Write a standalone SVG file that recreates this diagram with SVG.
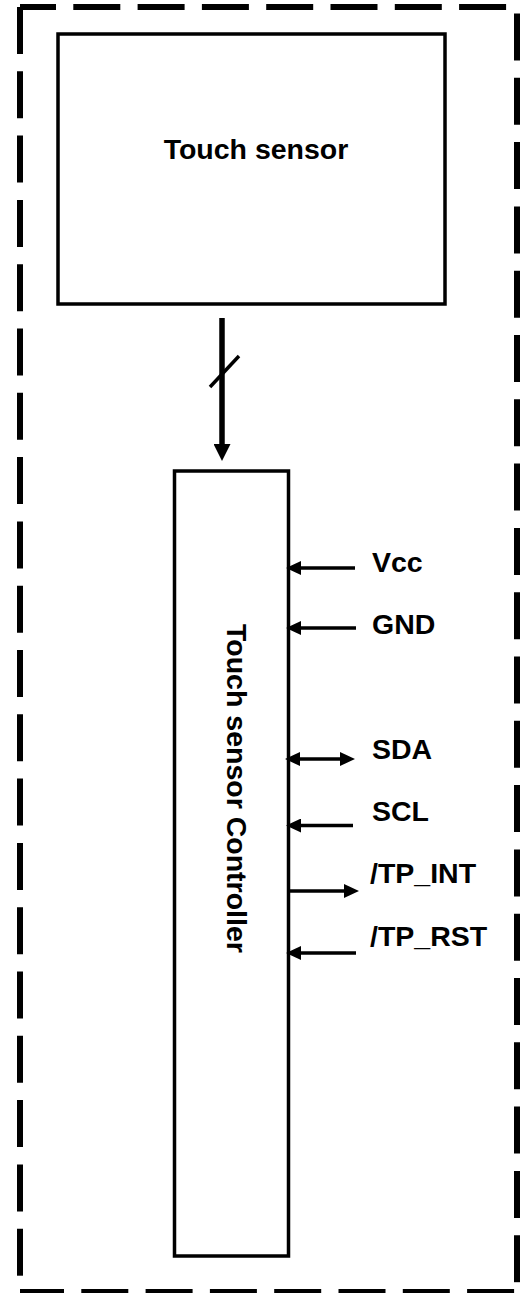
<svg xmlns="http://www.w3.org/2000/svg" width="521" height="1293" viewBox="0 0 521 1293">
<style>
.dash{stroke:#000;stroke-width:6;fill:none;stroke-dasharray:47 17.3}
.box{fill:#fff;stroke:#000;stroke-width:3.5}
.lbl{font-family:"Liberation Sans",Arial,sans-serif;font-weight:bold;font-size:28.5px;fill:#000}
.wire{stroke:#000;stroke-width:3.5;fill:none}
</style>
<defs>
<marker id="ah" markerUnits="userSpaceOnUse" markerWidth="15" markerHeight="14" refX="3" refY="7" orient="auto-start-reverse" viewBox="0 0 15 14">
<path d="M0,0 L15,7 L0,14 z" fill="#000"/>
</marker>
<marker id="ahBig" markerUnits="userSpaceOnUse" markerWidth="17" markerHeight="17" refX="3" refY="8.5" orient="auto" viewBox="0 0 17 17">
<path d="M0,0 L17,8.5 L0,17 z" fill="#000"/>
</marker>
</defs>
<g id="boundary">
<line class="dash" x1="20" y1="7" x2="517" y2="7" stroke-dashoffset="11"/>
<line class="dash" x1="20" y1="7" x2="20" y2="1292"/>
<line class="dash" x1="517" y1="13.5" x2="517" y2="1292"/>
<line class="dash" x1="20" y1="1292" x2="517" y2="1292" stroke-dashoffset="3"/>
</g>
<g id="touch-sensor">
<rect class="box" x="58" y="34" width="387" height="270"/>
<text class="lbl" x="256" y="159" text-anchor="middle">Touch sensor</text>
</g>
<g id="controller">
<rect class="box" x="174.5" y="471" width="114" height="785"/>
<text class="lbl" transform="translate(227,624) rotate(90)">Touch sensor Controller</text>
</g>
<g id="connectors">
<line stroke="#000" stroke-width="5.5" x1="222" y1="318" x2="222" y2="447" marker-end="url(#ahBig)"/>
<line stroke="#000" stroke-width="3.5" x1="210" y1="387" x2="239" y2="356"/>
<line class="wire" x1="355" y1="568" x2="298" y2="568" marker-end="url(#ah)"/>
<line class="wire" x1="356" y1="628" x2="298" y2="628" marker-end="url(#ah)"/>
<line class="wire" x1="297" y1="759" x2="343" y2="759" marker-start="url(#ah)" marker-end="url(#ah)"/>
<line class="wire" x1="353" y1="825.5" x2="298" y2="825.5" marker-end="url(#ah)"/>
<line class="wire" x1="289" y1="891" x2="347" y2="891" marker-end="url(#ah)"/>
<line class="wire" x1="356" y1="953" x2="298" y2="953" marker-end="url(#ah)"/>
</g>
<g id="labels">
<text class="lbl" x="372" y="572">Vcc</text>
<text class="lbl" x="372" y="634">GND</text>
<text class="lbl" x="372" y="759">SDA</text>
<text class="lbl" x="372" y="821">SCL</text>
<text class="lbl" x="370" y="883">/TP_INT</text>
<text class="lbl" x="370" y="946">/TP_RST</text>
</g>
</svg>
